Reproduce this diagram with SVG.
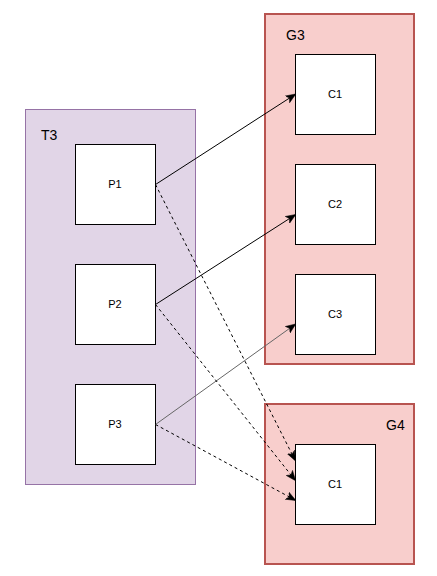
<svg xmlns="http://www.w3.org/2000/svg" width="437" height="576" viewBox="0 0 437 576">
<style>
.t3{fill:#e1d5e7;stroke:#9673a6;stroke-width:1}
.g{fill:#f8cecc;stroke:#b85450;stroke-width:2}
.n{fill:#ffffff;stroke:#000000;stroke-width:1}
.lbl{font-family:"Liberation Sans",Arial,sans-serif;font-size:11px;fill:#000;text-anchor:middle}
.glbl{font-family:"Liberation Sans",Arial,sans-serif;font-size:14px;fill:#000}
.e{fill:none;stroke:#000;stroke-width:1}
.d{stroke-dasharray:3 3}
</style>
<defs>
<marker id="ah" viewBox="0 0 10 10" refX="9" refY="5" markerWidth="10" markerHeight="10" markerUnits="userSpaceOnUse" orient="auto">
<path d="M0,1 L10,5 L0,9 L2.5,5 Z" fill="#000" stroke="#000" stroke-width="0.5"/>
</marker>
</defs>
<g id="T3">
<rect class="t3" x="25.5" y="109.5" width="170" height="375"/>
<text class="glbl" x="41" y="140">T3</text>
</g>
<g id="G3">
<rect class="g" x="265" y="14" width="149" height="350"/>
<text class="glbl" x="286" y="40">G3</text>
</g>
<g id="G4">
<rect class="g" x="265" y="404" width="149" height="160"/>
<text class="glbl" x="386" y="430">G4</text>
</g>
<g id="P1"><rect class="n" x="75.5" y="144.5" width="80" height="80"/><text class="lbl" x="115" y="188">P1</text></g>
<g id="P2"><rect class="n" x="75.5" y="264.5" width="80" height="80"/><text class="lbl" x="115" y="308">P2</text></g>
<g id="P3"><rect class="n" x="75.5" y="384.5" width="80" height="80"/><text class="lbl" x="115" y="428">P3</text></g>
<g id="G3C1"><rect class="n" x="295.5" y="54.5" width="80" height="80"/><text class="lbl" x="335" y="98">C1</text></g>
<g id="G3C2"><rect class="n" x="295.5" y="164.5" width="80" height="80"/><text class="lbl" x="335" y="208">C2</text></g>
<g id="G3C3"><rect class="n" x="295.5" y="274.5" width="80" height="80"/><text class="lbl" x="335" y="318">C3</text></g>
<g id="G4C1"><rect class="n" x="295.5" y="444.5" width="80" height="80"/><text class="lbl" x="335" y="488">C1</text></g>
<g id="connectors">
<line class="e" x1="155.5" y1="184.5" x2="295" y2="94.5" marker-end="url(#ah)"/>
<line class="e" x1="155.5" y1="304.5" x2="295" y2="215" marker-end="url(#ah)"/>
<line class="e" x1="155.5" y1="424.5" x2="295" y2="324.5" stroke="#666666" style="stroke:#666666" marker-end="url(#ah)"/>
<line class="e d" x1="155.5" y1="184.5" x2="295" y2="460" marker-end="url(#ah)"/>
<line class="e d" x1="155.5" y1="304.5" x2="295" y2="480" marker-end="url(#ah)"/>
<line class="e d" x1="155.5" y1="424.5" x2="295" y2="500" marker-end="url(#ah)"/>
</g>
</svg>
